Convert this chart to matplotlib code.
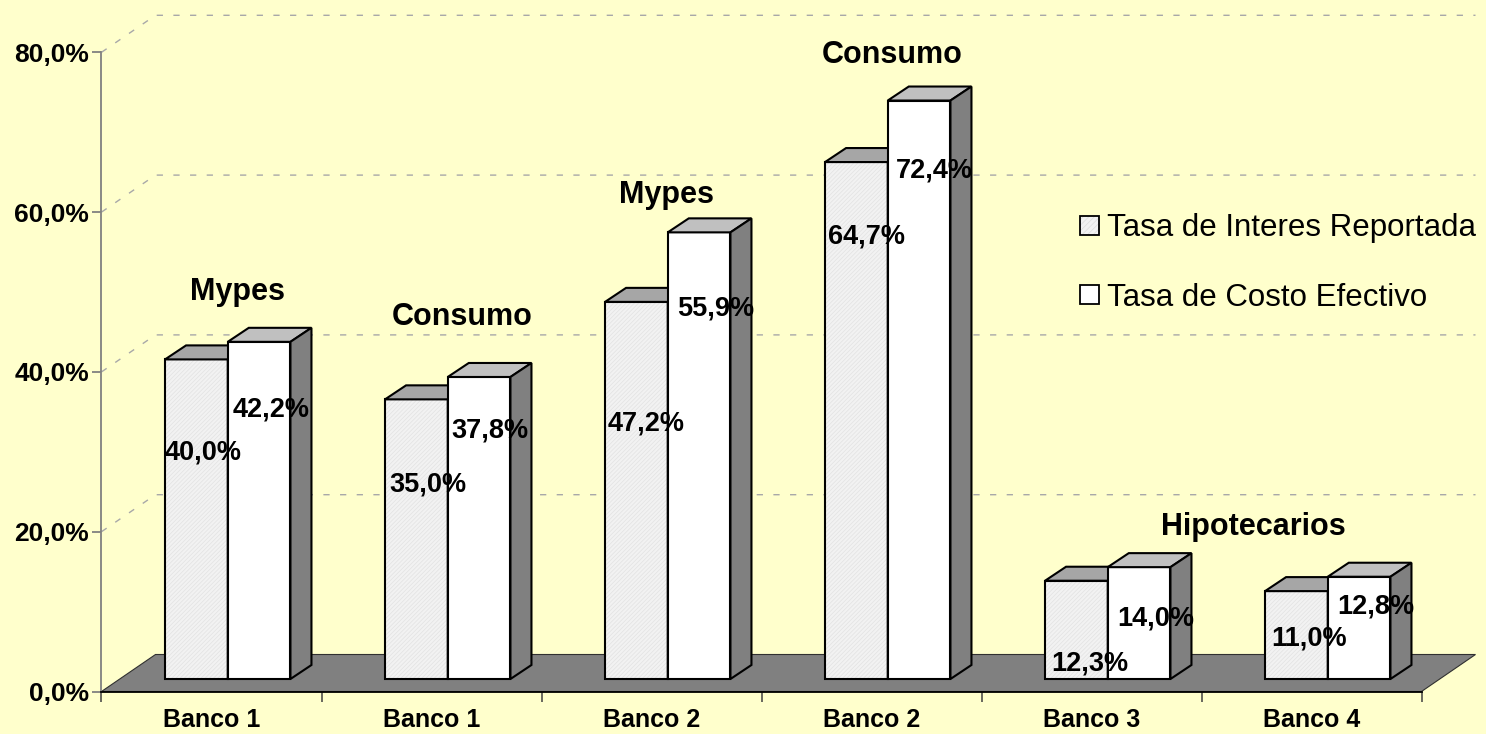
import matplotlib
matplotlib.use('Agg')
import matplotlib.pyplot as plt
from matplotlib.patches import Polygon, Patch
from matplotlib.legend_handler import HandlerTuple

plt.rcParams['font.family'] = ['Liberation Sans', 'DejaVu Sans']
plt.rcParams['hatch.linewidth'] = 0.5

# ---------------- data ----------------
banks = ['Banco 1', 'Banco 1', 'Banco 2', 'Banco 2', 'Banco 3', 'Banco 4']
tasa_reportada = [40.0, 35.0, 47.2, 64.7, 12.3, 11.0]
tasa_costo = [42.2, 37.8, 55.9, 72.4, 14.0, 12.8]
series_names = ['Tasa de Interes Reportada', 'Tasa de Costo Efectivo']
groups = ['Mypes', 'Consumo', 'Mypes', 'Consumo', 'Hipotecarios']
y_ticks = [0, 20, 40, 60, 80]

# ---------------- layout (pixels of the 1486x734 canvas) ----------------
W, H = 1486, 734
ax_l, ax_r, ax_b, ax_t = 101.5, 1421.5, 691.5, 52.3
ppx = (ax_r - ax_l) / 6.0
ppy = (ax_b - ax_t) / 80.0
DX, DY = 54 / ppx, 37 / ppy            # full depth of the 3D box
sy0 = 12.5 / ppy                        # bars' front plane
sx0 = sy0 / DY * DX
bdx, bdy = 21 / ppx, 14 / ppy           # bar depth
gap, bw = 0.206, 0.285
# value-label placement (height of label centre above bar base, x pad px)
lbl_h_rep = [28.3, 24.3, 32.0, 55.4, 2.0, 5.1]
lbl_h_cos = [33.7, 31.1, 46.4, 63.7, 7.6, 9.1]
lbl_dx_rep = [0, 4, 3, 3, 6, 6]
lbl_dx_cos = [5, 4, 9, 8, 9, 9]
group_pos = [(0.616, 50.0), (1.639, 46.9), (2.570, 62.1), (3.593, 79.7), (5.234, 20.6)]

BG = '#FFFFCC'
fig = plt.figure(figsize=(W / 100, H / 100), dpi=100, facecolor=BG)
ax = fig.add_axes([ax_l / W, 1 - ax_b / H, (ax_r - ax_l) / W, (ax_b - ax_t) / H])
ax.set_facecolor('none')
ax.set_xlim(0, 6)
ax.set_ylim(0, 80)

# back wall / side wall gridlines
for v in y_ticks[1:]:
    ax.plot([0, DX, 6 + DX], [v, v + DY, v + DY], color='#A8A8A8', lw=1,
            ls=(0, (4.5, 7.5)), clip_on=False, zorder=0.5)

# floor
ax.add_patch(Polygon([(0, 0), (6, 0), (6 + DX, DY), (DX, DY)], closed=True,
                     facecolor='#808080', edgecolor='#303030', lw=0.8,
                     clip_on=False, zorder=1))

def fmt(v):
    return f"{v:.1f}%".replace('.', ',')

xs = list(range(len(banks)))
x_rep = [i + gap + sx0 for i in xs]
x_cos = [i + gap + bw + sx0 for i in xs]

def faces(xl, vals, top_col, z):
    for x, v in zip(xl, vals):
        yt = sy0 + v
        xr = x + bw
        ax.add_patch(Polygon([(x, yt), (xr, yt), (xr + bdx, yt + bdy), (x + bdx, yt + bdy)],
                             closed=True, facecolor=top_col, edgecolor='black', lw=1.5,
                             joinstyle='miter', clip_on=False, zorder=z))
        ax.add_patch(Polygon([(xr, sy0), (xr + bdx, sy0 + bdy), (xr + bdx, yt + bdy), (xr, yt)],
                             closed=True, facecolor='#808080', edgecolor='black', lw=1.5,
                             joinstyle='miter', clip_on=False, zorder=z))

# series 1 (hatched light grey)
ax.bar(x_rep, tasa_reportada, width=bw, bottom=sy0, align='edge', color='#F2F2F2',
       edgecolor='#E2E2E2', hatch='/' * 8, linewidth=0, zorder=3)
ax.bar(x_rep, tasa_reportada, width=bw, bottom=sy0, align='edge', fill=False,
       edgecolor='black', linewidth=1.5, zorder=3)
faces(x_rep, tasa_reportada, '#A6A6A6', 3)

# series 2 (white)
ax.bar(x_cos, tasa_costo, width=bw, bottom=sy0, align='edge', color='white',
       edgecolor='black', linewidth=1.5, zorder=4)
faces(x_cos, tasa_costo, '#C0C0C0', 4)

# value labels
for x, v, h, d in zip(x_rep, tasa_reportada, lbl_h_rep, lbl_dx_rep):
    ax.text(x + d / ppx, sy0 + h, fmt(v), ha='left', va='center', fontsize=19.5,
            fontweight='bold', zorder=10, clip_on=False)
for x, v, h, d in zip(x_cos, tasa_costo, lbl_h_cos, lbl_dx_cos):
    ax.text(x + d / ppx, sy0 + h, fmt(v), ha='left', va='center', fontsize=19.5,
            fontweight='bold', zorder=10, clip_on=False)

# group labels
for g, (gx, gy) in zip(groups, group_pos):
    ax.text(gx, gy, g, ha='center', va='center', fontsize=22, fontweight='bold',
            zorder=10, clip_on=False)

# axes styling
for s in ('top', 'right'):
    ax.spines[s].set_visible(False)
ax.spines['left'].set_color('#808080')
ax.spines['left'].set_linewidth(1.3)
ax.spines['bottom'].set_color('black')
ax.spines['bottom'].set_linewidth(1.3)
ax.spines['bottom'].set_zorder(6)

ax.set_yticks(y_ticks, [fmt(v) for v in y_ticks])
ax.tick_params(axis='y', length=6.5, width=1.3, color='#808080', pad=2.5,
               labelsize=19)
for t in ax.get_yticklabels():
    t.set_fontweight('bold')

ax.set_xticks([i + 0.5 for i in xs], banks)
ax.set_xticks(list(range(7)), minor=True)
ax.tick_params(axis='x', which='major', length=0, pad=12, labelsize=18)
ax.tick_params(axis='x', which='minor', length=7.5, width=1.1, color='#404040')
for t in ax.get_xticklabels():
    t.set_fontweight('bold')

# legend
h1 = (Patch(facecolor='#F2F2F2', edgecolor='#DCDCDC', hatch='/' * 6, lw=0),
      Patch(fill=False, edgecolor='black', lw=1.3))
h2 = Patch(facecolor='white', edgecolor='black', lw=1.3)
fig.legend(handles=[h1, h2], labels=series_names, loc='center left',
           bbox_to_anchor=(1080 / W, 1 - 263 / H), frameon=False, fontsize=22.5,
           handlelength=0.6, handleheight=0.6, handletextpad=0.27,
           labelspacing=1.25, borderpad=0, borderaxespad=0,
           handler_map={tuple: HandlerTuple(ndivide=1, pad=0)})

fig.savefig('out.png', dpi=100, facecolor=BG)
